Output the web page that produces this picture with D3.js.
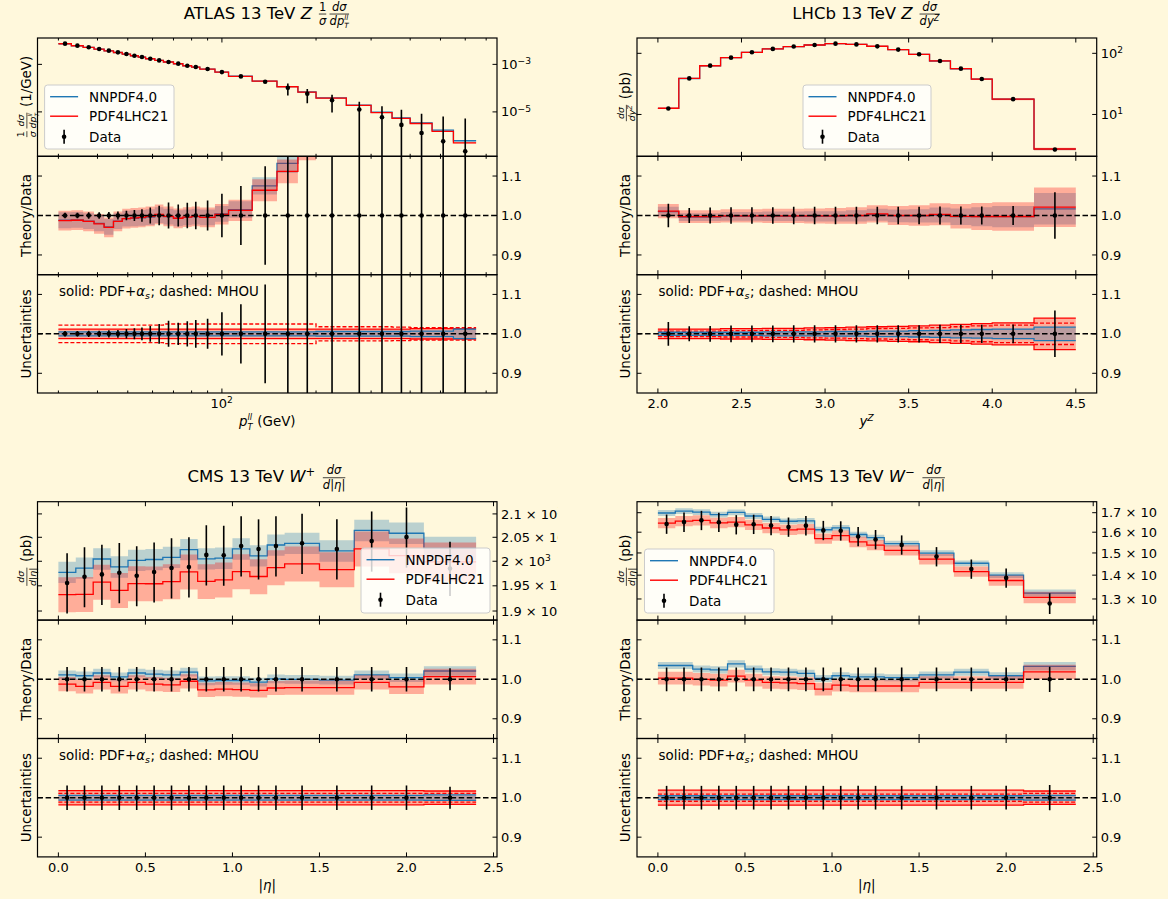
<!DOCTYPE html>
<html><head><meta charset="utf-8">
<script src="https://cdn.jsdelivr.net/npm/d3@7"></script>
<style>
body{margin:0;background:#fff8dc;}
svg{display:block;font-family:"DejaVu Sans",sans-serif;}
text{white-space:pre;}
</style></head><body>
<script>
// ---------- ATLAS 13 TeV Z pT (normalised) ----------
const atlasEdges = [30,33,36,39,42,45,48,51,54,57,61,65,70,75,80,85,95,105,125,150,175,200,250,300,350,400,470,550,650];
const atlasData = [7.46e-3,6.15e-3,5.23e-3,4.44e-3,3.78e-3,3.21e-3,2.73e-3,2.32e-3,2.04e-3,1.73e-3,1.47e-3,1.26e-3,1.07e-3,8.78e-4,7.71e-4,6.35e-4,4.74e-4,3.11e-4,1.85e-4,1.03e-4,5.77e-5,3.11e-5,1.26e-5,5.96e-6,2.83e-6,1.30e-6,5.77e-7,2.18e-7];
const atlasErr = [0.007,0.007,0.008,0.008,0.009,0.010,0.012,0.014,0.016,0.020,0.025,0.033,0.028,0.032,0.035,0.038,0.055,0.075,0.125,0.52,0.6,0.7,1.1,1.9,3.4,5.5,10,23];
const atlasRatioNNPDF = [0.988,0.989,0.986,0.980,0.971,0.986,0.992,0.993,0.994,0.996,1.001,0.997,0.993,0.995,0.997,0.995,1.004,1.015,1.075,1.132,1.19,1.24,1.52,1.62,1.98,2.65,2.95,2.8];
const atlasRatioPDF4LHC = [0.987,0.988,0.985,0.979,0.970,0.985,0.992,0.994,0.995,0.998,1.003,0.998,0.993,0.996,0.998,0.995,1.003,1.013,1.064,1.112,1.17,1.22,1.48,1.57,1.9,2.5,2.6,2.3];
const atlasBandNNPDF = [0.02,0.02,0.02,0.02,0.02,0.02,0.02,0.02,0.02,0.02,0.02,0.02,0.02,0.02,0.02,0.02,0.02,0.021,0.022,0.024,0.025,0.026,0.028,0.03,0.032,0.034,0.036,0.038];
const atlasBandPDF4LHC = [0.025,0.025,0.025,0.025,0.025,0.025,0.025,0.025,0.025,0.025,0.025,0.025,0.025,0.025,0.025,0.025,0.026,0.027,0.028,0.03,0.03,0.031,0.032,0.033,0.034,0.035,0.036,0.038];
const atlasPdfNNPDF = [0.005,0.005,0.005,0.005,0.005,0.005,0.005,0.005,0.005,0.005,0.005,0.005,0.005,0.005,0.005,0.005,0.005,0.005,0.005,0.005,0.005,0.006,0.006,0.006,0.006,0.007,0.007,0.012];
const atlasPdfPDF4LHC = [0.012,0.012,0.012,0.012,0.012,0.012,0.012,0.012,0.012,0.012,0.012,0.012,0.012,0.012,0.012,0.012,0.012,0.012,0.012,0.012,0.012,0.012,0.012,0.012,0.012,0.013,0.013,0.013];
const atlasMhou = [0.022,0.022,0.022,0.022,0.022,0.022,0.022,0.022,0.022,0.022,0.022,0.025,0.025,0.025,0.025,0.025,0.025,0.025,0.025,0.025,0.025,0.018,0.018,0.018,0.017,0.016,0.016,0.016];

// ---------- LHCb 13 TeV Z rapidity ----------
const lhcbEdges = [2.0,2.125,2.25,2.375,2.5,2.625,2.75,2.875,3.0,3.125,3.25,3.375,3.5,3.625,3.75,3.875,4.0,4.25,4.5];
const lhcbData = [12.5,38.9,62.8,84.9,104,118,129,137,144,140,130,115,96.3,74.8,56.1,38.0,17.8,2.67];
const lhcbErr = [0.03,0.019,0.02,0.021,0.021,0.021,0.022,0.022,0.022,0.022,0.022,0.022,0.022,0.023,0.023,0.023,0.024,0.059];
const lhcbRatioNNPDF = [1.010,0.996,0.996,0.998,0.998,0.998,0.998,0.998,0.998,0.999,1.002,0.999,0.999,1.001,0.997,0.997,0.997,1.017];
const lhcbRatioPDF4LHC = [1.011,0.997,0.997,0.999,0.999,0.999,0.999,0.999,0.999,1.0,1.004,1.0,1.0,1.003,0.998,0.9975,0.9975,1.021];
const lhcbBandNNPDF = [0.012,0.01,0.01,0.011,0.011,0.012,0.012,0.013,0.013,0.014,0.015,0.016,0.017,0.019,0.021,0.024,0.027,0.04];
const lhcbBandPDF4LHC = [0.018,0.016,0.016,0.017,0.017,0.018,0.018,0.019,0.02,0.021,0.022,0.024,0.026,0.028,0.031,0.034,0.036,0.05];
const lhcbPdfNNPDF = [0.004,0.004,0.004,0.004,0.004,0.005,0.005,0.005,0.006,0.006,0.007,0.007,0.008,0.009,0.01,0.011,0.012,0.017];
const lhcbPdfPDF4LHC = [0.012,0.012,0.012,0.013,0.013,0.014,0.014,0.015,0.016,0.017,0.018,0.019,0.02,0.022,0.024,0.026,0.028,0.04];
const lhcbMhou = [0.007,0.007,0.007,0.008,0.008,0.009,0.009,0.01,0.011,0.012,0.013,0.014,0.015,0.016,0.018,0.02,0.022,0.027];

// ---------- CMS 13 TeV W+ / W- lepton pseudorapidity ----------
const etaEdges = [0,0.1,0.2,0.3,0.4,0.5,0.6,0.7,0.8,0.9,1.0,1.1,1.2,1.3,1.5,1.7,1.9,2.1,2.4];
const wpData = [1955.8,1968.3,1973.1,1976.5,1970.3,1977.9,1986.2,1988.3,2013.1,2012.4,2031.7,2025.5,2031.7,2037.3,2025.5,2042,2050.4,1985];
const wpErr = [0.031,0.031,0.031,0.031,0.031,0.031,0.031,0.031,0.031,0.031,0.031,0.031,0.031,0.031,0.031,0.031,0.031,0.028];
const wpRatioNNPDF = [1.011,1.009,1.016,1.006,1.016,1.013,1.011,1.018,0.996,0.997,0.997,0.993,1.001,1.0,0.998,1.011,1.004,1.021];
const wpRatioPDF4LHC = [0.988,0.982,0.992,0.982,0.992,0.988,0.986,0.995,0.973,0.975,0.974,0.972,0.978,0.979,0.979,0.992,0.981,1.007];
const wpBandNNPDF = [0.011,0.011,0.011,0.011,0.011,0.011,0.011,0.011,0.011,0.011,0.011,0.011,0.011,0.011,0.011,0.011,0.011,0.012];
const wpBandPDF4LHC = [0.018,0.018,0.018,0.018,0.018,0.018,0.018,0.018,0.018,0.018,0.018,0.018,0.018,0.018,0.018,0.018,0.018,0.02];
const wpPdfNNPDF = [0.006,0.006,0.006,0.006,0.006,0.006,0.006,0.006,0.006,0.006,0.006,0.006,0.006,0.006,0.006,0.006,0.006,0.007];
const wpPdfPDF4LHC = [0.018,0.018,0.018,0.018,0.018,0.018,0.018,0.018,0.018,0.018,0.018,0.018,0.018,0.018,0.018,0.018,0.018,0.017];
const wpMhou = [0.011,0.011,0.011,0.011,0.011,0.011,0.011,0.011,0.011,0.011,0.011,0.011,0.011,0.011,0.011,0.011,0.011,0.011];

const wmData = [1641,1651,1660,1650,1638,1640,1634,1626,1633,1609,1607,1579,1564,1538,1483,1427,1388,1282];
const wmErr = [0.03,0.03,0.03,0.03,0.03,0.03,0.03,0.03,0.03,0.03,0.03,0.03,0.03,0.03,0.03,0.03,0.03,0.032];
const wmRatioNNPDF = [1.035,1.035,1.026,1.024,1.039,1.026,1.019,1.018,1.015,1.002,1.009,1.006,1.006,1.004,1.011,1.018,1.009,1.033];
const wmRatioPDF4LHC = [1.003,1.003,1.000,0.998,1.008,0.998,0.992,0.991,0.989,0.975,0.985,0.983,0.983,0.983,0.992,0.992,0.992,1.019];
const wmBandNNPDF = [0.009,0.009,0.009,0.009,0.009,0.009,0.009,0.009,0.009,0.009,0.009,0.009,0.009,0.009,0.009,0.009,0.009,0.011];
const wmBandPDF4LHC = [0.016,0.016,0.016,0.016,0.016,0.016,0.016,0.016,0.016,0.016,0.016,0.016,0.016,0.016,0.016,0.016,0.016,0.018];
const wmPdfNNPDF = [0.005,0.005,0.005,0.005,0.005,0.005,0.005,0.005,0.005,0.005,0.005,0.005,0.005,0.005,0.005,0.005,0.005,0.006];
const wmPdfPDF4LHC = [0.019,0.019,0.019,0.019,0.019,0.019,0.019,0.019,0.019,0.019,0.019,0.019,0.019,0.019,0.019,0.019,0.019,0.017];
const wmMhou = [0.009,0.009,0.009,0.009,0.009,0.009,0.009,0.009,0.009,0.009,0.009,0.009,0.009,0.009,0.009,0.009,0.009,0.011];

// tick values
const atlasXMinor = [30,40,50,60,70,80,90,200,300,400,500,600,700];
const lhcbXTicks = [2.0,2.5,3.0,3.5,4.0,4.5];
const etaXTicks = [0.0,0.5,1.0,1.5,2.0,2.5];
const ratioTicks = [0.9,1.0,1.1];
const wpYTicks = [1900,1950,2000,2050,2100];
const wmYTicks = [1300,1400,1500,1600,1700];

// ---------- styling ----------
const BG = '#fff8dc', C_NN = '#1f77b4', C_PDF = '#ff0000';
const TICK_FS = 13, LAB_FS = 13.4, LEG_FS = 13.5, TITLE_FS = 16.5;

const svg = d3.select('body').append('svg').attr('width',1168).attr('height',899);
svg.append('rect').attr('width',1168).attr('height',899).attr('fill',BG);
const defs = svg.append('defs');
let clipN = 0;
function clipRect(x,y,w,h){ const id='cl'+(clipN++); defs.append('clipPath').attr('id',id).append('rect').attr('x',x).attr('y',y).attr('width',w).attr('height',h); return `url(#${id})`; }

// ---------- small mathtext-like layout ----------
function runs(g, list, size, x0, y0){
  let x = x0;
  for (const r of list){
    if (r.sub !== undefined || r.sup !== undefined){
      const fs = size*(r.sub && r.sup ? 0.62 : 0.7); let w = 0;
      if (r.sup){ const t=g.append('text').attr('x',x).attr('y',y0-size*(r.sub?0.44:0.38)).attr('font-size',fs).attr('font-style',r.up?'normal':'italic').text(r.sup); w=Math.max(w,t.node().getComputedTextLength()); }
      if (r.sub){ const t=g.append('text').attr('x',x).attr('y',y0+size*0.28).attr('font-size',fs).attr('font-style',r.up?'normal':'italic').text(r.sub); w=Math.max(w,t.node().getComputedTextLength()); }
      x += w + size*0.04;
    } else if (r.frac){
      const fs = size*0.7;
      const gn=g.append('g'), gd=g.append('g');
      const wn=runs(gn,r.frac[0],fs,0,0), wd=runs(gd,r.frac[1],fs,0,0);
      const w=Math.max(wn,wd), pad=size*0.1, bar=y0-size*0.27;
      gn.attr('transform',`translate(${x+pad+(w-wn)/2},${bar-size*0.2})`);
      gd.attr('transform',`translate(${x+pad+(w-wd)/2},${bar+size*0.68})`);
      g.append('line').attr('x1',x+pad).attr('x2',x+pad+w).attr('y1',bar).attr('y2',bar).attr('stroke','#000').attr('stroke-width',Math.max(0.7,size*0.045));
      x += w+2*pad;
    } else {
      const t=g.append('text').attr('x',x).attr('y',y0).attr('font-size',size).attr('font-style',r.i?'italic':'normal').text(r.s);
      x += t.node().getComputedTextLength();
    }
  }
  return x-x0;
}
function mathText(parent, items, size, opts){
  const g = parent.append('g').attr('fill','#000');
  const inner = g.append('g');
  const w = runs(inner, items, size, 0, 0);
  const anchor = opts.anchor || 'middle';
  const dx = anchor==='middle' ? -w/2 : (anchor==='end' ? -w : 0);
  inner.attr('transform',`translate(${dx},0)`);
  g.attr('transform',`translate(${opts.x},${opts.y})` + (opts.rotate ? ` rotate(${opts.rotate})` : ''));
  return g;
}

// ---------- helpers ----------
const centers = e => e.slice(0,-1).map((a,i)=> (a+e[i+1])/2);
function stepPts(edges, vals){ const p=vals.map((v,i)=>[edges[i],v]); p.push([edges[edges.length-1],vals[vals.length-1]]); return p; }
function bandPts(edges, lo, hi){ const p=lo.map((v,i)=>[edges[i],v,hi[i]]); p.push([edges[edges.length-1],lo[lo.length-1],hi[hi.length-1]]); return p; }

function makePanel(o){
  const g = svg.append('g');
  const plot = g.append('g').attr('clip-path', clipRect(o.x0,o.y0,o.x1-o.x0,o.y1-o.y0));
  const frame = g.append('g');
  return {o, plot, frame};
}
function finishPanel(p){
  const o=p.o, f=p.frame, L=4.5, Lm=2.5;
  const tk=(x1,y1,x2,y2)=>f.append('line').attr('x1',x1).attr('y1',y1).attr('x2',x2).attr('y2',y2).attr('stroke','#000').attr('stroke-width',1);
  (o.xMajor||[]).forEach(v=>{const x=o.xs(v); tk(x,o.y0,x,o.y0+L); tk(x,o.y1,x,o.y1-L);});
  (o.xMinor||[]).forEach(v=>{const x=o.xs(v); tk(x,o.y0,x,o.y0+Lm); tk(x,o.y1,x,o.y1-Lm);});
  (o.yMajor||[]).forEach(v=>{const y=o.ys(v); tk(o.x0,y,o.x0+L,y); tk(o.x1,y,o.x1-L,y);});
  f.append('rect').attr('x',o.x0).attr('y',o.y0).attr('width',o.x1-o.x0).attr('height',o.y1-o.y0)
    .attr('fill','none').attr('stroke','#000').attr('stroke-width',1.2);
  // right-hand tick labels
  const lg = o.labelClip ? f.append('g').attr('clip-path',o.labelClip) : f;
  (o.yMajor||[]).forEach(v=>{
    mathText(lg, o.yFmt(v), TICK_FS, {x:o.x1+4, y:o.ys(v)+4.6, anchor:'start'});
  });
  if (o.xLabels){
    (o.xMajor||[]).forEach(v=>{
      mathText(f, o.xFmt(v), TICK_FS, {x:o.xs(v), y:o.y1+15, anchor:'middle'});
    });
  }
}

function drawStep(g, xs, ys, edges, vals, color, dash, width){
  g.append('path').datum(stepPts(edges,vals))
    .attr('d', d3.line().x(d=>xs(d[0])).y(d=>ys(d[1])).curve(d3.curveStepAfter))
    .attr('fill','none').attr('stroke',color).attr('stroke-width',width||1.3)
    .attr('stroke-dasharray',dash||null);
}
function drawBand(g, xs, ys, edges, lo, hi, color, op){
  g.append('path').datum(bandPts(edges,lo,hi))
    .attr('d', d3.area().x(d=>xs(d[0])).y0(d=>ys(d[1])).y1(d=>ys(d[2])).curve(d3.curveStepAfter))
    .attr('fill',color).attr('fill-opacity',op==null?0.3:op).attr('stroke','none');
}
function drawData(g, xs, ys, xc, vals, lo, hi, floor){
  xc.forEach((x,i)=>{
    const a = Math.max(lo[i], floor), b = hi[i];
    g.append('line').attr('x1',xs(x)).attr('x2',xs(x)).attr('y1',ys(a)).attr('y2',ys(b)).attr('stroke','#000').attr('stroke-width',1.6);
  });
  g.selectAll(null).data(xc).enter().append('circle')
    .attr('cx',d=>xs(d)).attr('cy',(d,i)=>ys(vals[i])).attr('r',2.3).attr('fill','#000');
}
function unityLine(g, o){
  g.append('line').attr('x1',o.x0).attr('x2',o.x1).attr('y1',o.ys(1)).attr('y2',o.ys(1))
    .attr('stroke','#000').attr('stroke-width',1.5).attr('stroke-dasharray','5.5,2.6');
}
function legend(x, y, w, h){
  const g = svg.append('g');
  g.append('rect').attr('x',x).attr('y',y).attr('width',w).attr('height',h).attr('rx',3)
    .attr('fill','#fff').attr('fill-opacity',0.8).attr('stroke','#cccccc').attr('stroke-width',1);
  const rows = [y+11.7, y+31.2, y+51.7];
  g.append('line').attr('x1',x+5.5).attr('x2',x+33.5).attr('y1',rows[0]).attr('y2',rows[0]).attr('stroke',C_NN).attr('stroke-width',1.4);
  g.append('line').attr('x1',x+5.5).attr('x2',x+33.5).attr('y1',rows[1]).attr('y2',rows[1]).attr('stroke',C_PDF).attr('stroke-width',1.4);
  g.append('line').attr('x1',x+19.5).attr('x2',x+19.5).attr('y1',rows[2]-7).attr('y2',rows[2]+7).attr('stroke','#000').attr('stroke-width',1.6);
  g.append('circle').attr('cx',x+19.5).attr('cy',rows[2]).attr('r',2.3).attr('fill','#000');
  ['NNPDF4.0','PDF4LHC21','Data'].forEach((t,i)=>g.append('text').attr('x',x+44.5).attr('y',rows[i]+4.8).attr('font-size',LEG_FS).text(t));
}

// ---------- one column (main / ratio / uncertainty) ----------
function drawColumn(c){
  const [x0,x1] = c.xPix, [r0,r1,r2,r3] = c.yPix;
  const xs = c.xs.range([x0,x1]);
  const xc = c.xc;
  const nn = c.data.map((v,i)=>v*c.ratioNN[i]);
  const pd = c.data.map((v,i)=>v*c.ratioPDF[i]);

  // main panel
  const ysM = c.ysMain.range([r1,r0]);
  const pM = makePanel({x0,x1,y0:r0,y1:r1,xs,ys:ysM,xMajor:c.xMajor,xMinor:c.xMinor,yMajor:c.yMainTicks,yFmt:c.yMainFmt,labelClip:c.labelClip});
  drawBand(pM.plot,xs,ysM,c.edges,nn.map((v,i)=>v*(1-c.bandNN[i])),nn.map((v,i)=>v*(1+c.bandNN[i])),C_NN);
  drawStep(pM.plot,xs,ysM,c.edges,nn,C_NN);
  drawBand(pM.plot,xs,ysM,c.edges,pd.map((v,i)=>v*(1-c.bandPDF[i])),pd.map((v,i)=>v*(1+c.bandPDF[i])),C_PDF);
  drawStep(pM.plot,xs,ysM,c.edges,pd,C_PDF);
  drawData(pM.plot,xs,ysM,xc,c.data,c.data.map((v,i)=>v*(1-c.err[i])),c.data.map((v,i)=>v*(1+c.err[i])),ysM.domain()[0]*0.5);
  finishPanel(pM);

  // theory / data
  const ysR = d3.scaleLinear().domain([0.85,1.15]).range([r2,r1]);
  const pR = makePanel({x0,x1,y0:r1,y1:r2,xs,ys:ysR,xMajor:c.xMajor,xMinor:c.xMinor,yMajor:ratioTicks,yFmt:v=>[{s:d3.format('.1f')(v)}]});
  drawBand(pR.plot,xs,ysR,c.edges,c.ratioNN.map((v,i)=>v-c.bandNN[i]),c.ratioNN.map((v,i)=>v+c.bandNN[i]),C_NN);
  drawStep(pR.plot,xs,ysR,c.edges,c.ratioNN,C_NN);
  drawBand(pR.plot,xs,ysR,c.edges,c.ratioPDF.map((v,i)=>v-c.bandPDF[i]),c.ratioPDF.map((v,i)=>v+c.bandPDF[i]),C_PDF);
  drawStep(pR.plot,xs,ysR,c.edges,c.ratioPDF,C_PDF);
  unityLine(pR.plot,pR.o);
  drawData(pR.plot,xs,ysR,xc,xc.map(()=>1),c.err.map(e=>1-e),c.err.map(e=>1+e),0);
  finishPanel(pR);

  // uncertainties
  const ysU = d3.scaleLinear().domain([0.85,1.15]).range([r3,r2]);
  const pU = makePanel({x0,x1,y0:r2,y1:r3,xs,ys:ysU,xMajor:c.xMajor,xMinor:c.xMinor,yMajor:ratioTicks,yFmt:v=>[{s:d3.format('.1f')(v)}],xLabels:true,xFmt:c.xFmt});
  const up = a=>a.map(e=>1+e), dn = a=>a.map(e=>1-e);
  drawBand(pU.plot,xs,ysU,c.edges,dn(c.pdfPDF),up(c.pdfPDF),C_PDF);
  drawStep(pU.plot,xs,ysU,c.edges,up(c.pdfPDF),C_PDF); drawStep(pU.plot,xs,ysU,c.edges,dn(c.pdfPDF),C_PDF);
  drawStep(pU.plot,xs,ysU,c.edges,up(c.mhou),C_PDF,'4,2'); drawStep(pU.plot,xs,ysU,c.edges,dn(c.mhou),C_PDF,'4,2');
  drawBand(pU.plot,xs,ysU,c.edges,dn(c.pdfNN),up(c.pdfNN),C_NN);
  drawStep(pU.plot,xs,ysU,c.edges,up(c.pdfNN),C_NN); drawStep(pU.plot,xs,ysU,c.edges,dn(c.pdfNN),C_NN);
  unityLine(pU.plot,pU.o);
  drawData(pU.plot,xs,ysU,xc,xc.map(()=>1),c.err.map(e=>1-e),c.err.map(e=>1+e),0);
  finishPanel(pU);
  mathText(svg,[{s:'solid: PDF+'},{s:'α',i:true},{sub:'s'},{s:'; dashed: MHOU'}],LAB_FS,{x:x0+21.5,y:r2+21,anchor:'start'});

  // titles and axis labels
  const cx=(x0+x1)/2, lx=c.yLabX;
  mathText(svg,c.title,TITLE_FS,{x:cx,y:r0-19.5,anchor:'middle'});
  mathText(svg,c.yMainLabel,LAB_FS,{x:lx,y:(r0+r1)/2,rotate:-90});
  mathText(svg,[{s:'Theory/Data'}],LAB_FS,{x:lx,y:(r1+r2)/2,rotate:-90});
  mathText(svg,[{s:'Uncertainties'}],LAB_FS,{x:lx,y:(r2+r3)/2,rotate:-90});
  mathText(svg,c.xLabel,LAB_FS,{x:cx,y:r3+33,anchor:'middle'});
  legend(...c.legendBox);
}

const dsig = [{s:'d',i:true},{s:'σ',i:true}];
const leftClip = clipRect(0,0,558,899);
const rightClip = clipRect(580,0,577,899);
const topRow = [38,156.3,274.7,393], botRow = [501.7,620.1,738.5,856.9];
const leftX = [37.5,497], rightX = [637,1096.7];
const sciFmt = v => { const m = v/1000; return m===2 ? [{s:'2 × 10'},{sup:'3',up:true}] : [{s:d3.format('.3~f')(m)+' × 10'},{sup:'3',up:true}]; };

drawColumn({
  edges:atlasEdges, xc:centers(atlasEdges), data:atlasData, err:atlasErr,
  ratioNN:atlasRatioNNPDF, ratioPDF:atlasRatioPDF4LHC, bandNN:atlasBandNNPDF, bandPDF:atlasBandPDF4LHC,
  pdfNN:atlasPdfNNPDF, pdfPDF:atlasPdfPDF4LHC, mhou:atlasMhou,
  xPix:leftX, yPix:topRow, xs:d3.scaleLog().domain([25.72,758.1]), xMajor:[100], xMinor:atlasXMinor,
  xFmt:()=>[{s:'10'},{sup:'2',up:true}],
  ysMain:d3.scaleLog().domain([1.352e-7,1.288e-2]), yMainTicks:[1e-3,1e-5],
  yMainFmt:v=>[{s:'10'},{sup:'−'+Math.round(-Math.log10(v)),up:true}],
  title:[{s:'ATLAS 13 TeV '},{s:'Z',i:true},{s:' '},{frac:[[{s:'1'}],[{s:'σ',i:true}]]},{frac:[dsig,[{s:'d',i:true},{s:'p',i:true},{sub:'T',sup:'ll'}]]}],
  yMainLabel:[{frac:[[{s:'1'}],[{s:'σ',i:true}]]},{frac:[dsig,[{s:'d',i:true},{s:'p',i:true},{sub:'T',sup:'ll'}]]},{s:' (1/GeV)'}],
  xLabel:[{s:'p',i:true},{sub:'T',sup:'ll'},{s:' (GeV)'}],
  yLabX:30.5, legendBox:[44.6,85,129.4,64], labelClip:leftClip
});

drawColumn({
  edges:lhcbEdges, xc:centers(lhcbEdges), data:lhcbData, err:lhcbErr,
  ratioNN:lhcbRatioNNPDF, ratioPDF:lhcbRatioPDF4LHC, bandNN:lhcbBandNNPDF, bandPDF:lhcbBandPDF4LHC,
  pdfNN:lhcbPdfNNPDF, pdfPDF:lhcbPdfPDF4LHC, mhou:lhcbMhou,
  xPix:rightX, yPix:topRow, xs:d3.scaleLinear().domain([1.875,4.625]), xMajor:lhcbXTicks, xMinor:[],
  xFmt:v=>[{s:d3.format('.1f')(v)}],
  ysMain:d3.scaleLog().domain([2.07,178]), yMainTicks:[10,100],
  yMainFmt:v=>[{s:'10'},{sup:String(Math.round(Math.log10(v))),up:true}],
  title:[{s:'LHCb 13 TeV '},{s:'Z',i:true},{s:' '},{frac:[dsig,[{s:'dy',i:true},{sup:'Z'}]]}],
  yMainLabel:[{frac:[dsig,[{s:'dy',i:true},{sup:'Z'}]]},{s:' (pb)'}],
  xLabel:[{s:'y',i:true},{sup:'Z'}],
  yLabX:630, legendBox:[803,85,128,64]
});

const etaLabel = [{s:'|'},{s:'η',i:true},{s:'|'}];
const dEta = [{s:'d',i:true},{s:'|'},{s:'η',i:true},{s:'|'}];

drawColumn({
  edges:etaEdges, xc:centers(etaEdges), data:wpData, err:wpErr,
  ratioNN:wpRatioNNPDF, ratioPDF:wpRatioPDF4LHC, bandNN:wpBandNNPDF, bandPDF:wpBandPDF4LHC,
  pdfNN:wpPdfNNPDF, pdfPDF:wpPdfPDF4LHC, mhou:wpMhou,
  xPix:leftX, yPix:botRow, xs:d3.scaleLinear().domain([-0.12,2.52]), xMajor:etaXTicks, xMinor:[],
  xFmt:v=>[{s:d3.format('.1f')(v)}],
  ysMain:d3.scaleLog().domain([1882.3,2126.6]), yMainTicks:wpYTicks, yMainFmt:sciFmt,
  title:[{s:'CMS 13 TeV '},{s:'W',i:true},{sup:'+',up:true},{s:' '},{frac:[dsig,dEta]}],
  yMainLabel:[{frac:[dsig,dEta]},{s:' (pb)'}],
  xLabel:etaLabel,
  yLabX:30.5, legendBox:[361,548,129,65], labelClip:leftClip
});

drawColumn({
  edges:etaEdges, xc:centers(etaEdges), data:wmData, err:wmErr,
  ratioNN:wmRatioNNPDF, ratioPDF:wmRatioPDF4LHC, bandNN:wmBandNNPDF, bandPDF:wmBandPDF4LHC,
  pdfNN:wmPdfNNPDF, pdfPDF:wmPdfPDF4LHC, mhou:wmMhou,
  xPix:rightX, yPix:botRow, xs:d3.scaleLinear().domain([-0.12,2.52]), xMajor:etaXTicks, xMinor:[],
  xFmt:v=>[{s:d3.format('.1f')(v)}],
  ysMain:d3.scaleLog().domain([1217.4,1759.1]), yMainTicks:wmYTicks, yMainFmt:sciFmt,
  title:[{s:'CMS 13 TeV '},{s:'W',i:true},{sup:'−',up:true},{s:' '},{frac:[dsig,dEta]}],
  yMainLabel:[{frac:[dsig,dEta]},{s:' (pb)'}],
  xLabel:etaLabel,
  yLabX:630, legendBox:[644.5,549,129.5,64], labelClip:rightClip
});
</script>
</body></html>
